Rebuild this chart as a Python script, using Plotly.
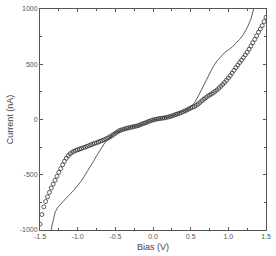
import plotly.graph_objects as go

# Measured data (open circles), bias step 0.025 V
bias_meas = [round(-1.5 + 0.025 * i, 3) for i in range(121)]
current_meas = [-947, -860, -790, -742, -700, -660, -620, -585, -550, -514,
                -478, -444, -410, -378, -350, -328, -310, -298, -288, -280,
                -274, -268, -262, -256, -250, -243, -236, -229, -222, -216,
                -210, -204, -197, -191, -184, -176, -168, -158, -148, -136,
                -125, -113, -102, -96, -90, -85, -80, -76, -72, -68,
                -64, -60, -56, -49, -42, -36, -30, -23, -16, -10,
                -4, 0, 4, 7, 10, 12, 15, 18, 22, 27,
                32, 38, 45, 50, 56, 63, 70, 78, 86, 95,
                104, 111, 118, 128, 140, 155, 170, 184, 197, 209,
                220, 231, 242, 255, 268, 284, 300, 317, 335, 355,
                375, 397, 420, 445, 469, 492, 515, 537, 560, 584,
                608, 636, 665, 695, 725, 757, 790, 820, 850, 887, 925]

# Fit curve (solid line)
bias_fit = [-1.37, -1.34, -1.30, -1.26, -1.20, -1.15, -1.10, -1.05, -1.00, -0.95,
            -0.90, -0.85, -0.80, -0.75, -0.70, -0.65, -0.60, -0.55, -0.50, -0.40,
            -0.30, -0.20, -0.10, 0.00, 0.10, 0.20, 0.30, 0.40, 0.45, 0.50,
            0.55, 0.60, 0.65, 0.70, 0.75, 0.80, 0.85, 0.90, 0.95, 1.00,
            1.05, 1.10, 1.15, 1.20, 1.25, 1.30, 1.33, 1.36]
current_fit = [-1050, -950, -840, -790, -745, -705, -675, -640, -600, -555,
               -500, -450, -390, -330, -270, -222, -180, -145, -122, -90,
               -72, -56, -30, -4, 10, 22, 45, 70, 88, 112,
               150, 210, 280, 350, 420, 480, 530, 570, 605, 630,
               655, 690, 725, 770, 830, 910, 985, 1060]

x_ticks = [-1.5, -1.0, -0.5, 0.0, 0.5, 1.0, 1.5]
x_ticklabels = ["-1.5", "-1.0", "-0.5", "0.0", "0.5", "1.0", "1.5"]
y_ticks = [-1000, -500, 0, 500, 1000]
y_ticklabels = ["-1000", "-500", "0", "500", "1000"]

fig = go.Figure()
fig.add_trace(go.Scatter(
    x=bias_fit, y=current_fit, mode="lines",
    line=dict(color="#333333", width=0.8), showlegend=False))
fig.add_trace(go.Scatter(
    x=bias_meas, y=current_meas, mode="markers",
    marker=dict(symbol="circle-open", size=4, color="#333333", line=dict(width=0.8)),
    showlegend=False))

axis_common = dict(
    showline=True, linecolor="#555555", linewidth=1, mirror="allticks",
    ticks="inside", ticklen=3, tickcolor="#555555", showgrid=False, zeroline=False,
    tickfont=dict(family="Liberation Sans, Arial", size=7, color="#555555"),
)

fig.update_layout(
    width=276, height=256,
    margin=dict(l=40, r=5, t=7, b=24),
    paper_bgcolor="white", plot_bgcolor="white",
    xaxis=dict(range=[-1.5, 1.5], tickvals=x_ticks, ticktext=x_ticklabels,
               minor=dict(ticks="inside", ticklen=2, dtick=0.25, tick0=0, tickcolor="#555555"),
               title=dict(text="Bias (V)", font=dict(family="Liberation Sans, Arial", size=9, color="#444444"),
                          standoff=4),
               **axis_common),
    yaxis=dict(range=[-1000, 1000], tickvals=y_ticks, ticktext=y_ticklabels,
               minor=dict(ticks="inside", ticklen=2, dtick=250, tick0=0, tickcolor="#555555"),
               title=dict(text="Current (nA)", font=dict(family="Liberation Sans, Arial", size=9, color="#444444"),
                          standoff=4),
               **axis_common),
)

fig.write_html("out.html")
